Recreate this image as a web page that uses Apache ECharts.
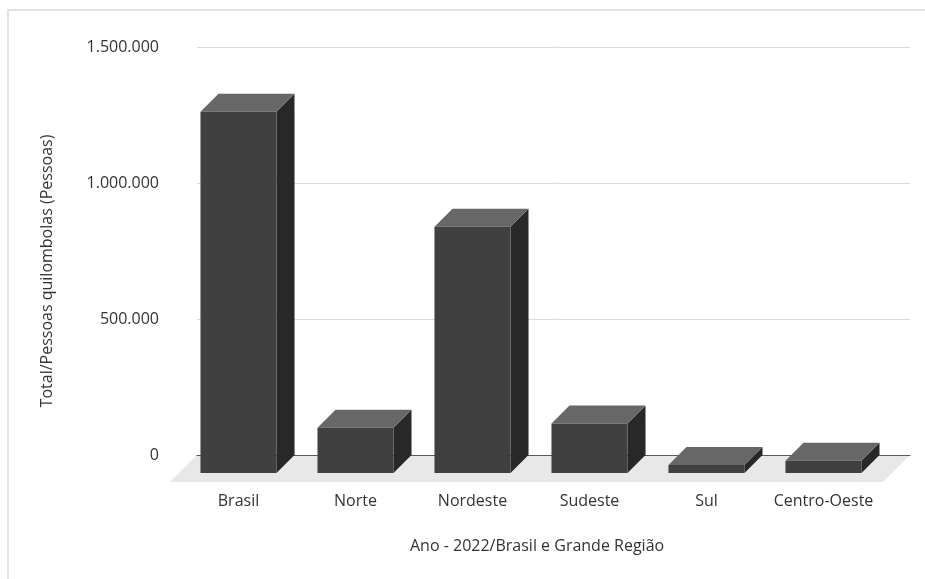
<!DOCTYPE html>
<html>
<head>
<meta charset="utf-8">
<script src="https://cdn.jsdelivr.net/npm/echarts@6/dist/echarts.min.js"></script>
<style>
html,body{margin:0;padding:0;background:#fff;}
#chart{width:925px;height:579px;}
</style>
</head>
<body>
<div id="chart"></div>
<script>
const categories = ['Brasil', 'Norte', 'Nordeste', 'Sudeste', 'Sul', 'Centro-Oeste'];
const values = [1327802, 166069, 905415, 182305, 29380, 44957];
const yMin = 0, yMax = 1500000, yStep = 500000;
const yAxisTitle = 'Total/Pessoas quilombolas (Pessoas)';
const xAxisTitle = 'Ano - 2022/Brasil e Grande Região';

const FONT = 'Open Sans';
const TXT = '#333333';
const DEPTH = 18;
const FLOOR = 27;

function fmt(v) {
  return String(v).replace(/\B(?=(\d{3})+(?!\d))/g, '.');
}

const chart = echarts.init(document.getElementById('chart'), null, {renderer: 'canvas'});

const option = {
  backgroundColor: '#fff',
  animation: false,
  grid: [
    {left: 198, right: 25, top: 47, bottom: 124},
    {left: 197, right: 15, top: 47, bottom: 124}
  ],
  xAxis: [
    {
      type: 'category', gridIndex: 0, data: categories,
      axisLine: {show: false}, axisTick: {show: false},
      axisLabel: {
        interval: 0, hideOverlap: false,
        color: TXT, fontFamily: FONT, fontSize: 16, margin: 38,
        padding: [0, DEPTH * 2, 0, 0]
      }
    },
    {
      type: 'value', gridIndex: 1, min: 0, max: 1, z: 2,
      axisLine: {show: true, lineStyle: {color: '#595959', width: 1}},
      axisTick: {show: false}, axisLabel: {show: false}, splitLine: {show: false}
    }
  ],
  yAxis: [
    {
      type: 'value', gridIndex: 0, min: yMin, max: yMax, interval: yStep, show: false
    },
    {
      type: 'value', gridIndex: 1, min: yMin, max: yMax, interval: yStep,
      axisLine: {show: false}, axisTick: {show: false},
      axisLabel: {color: TXT, fontFamily: FONT, fontSize: 16, margin: 38, formatter: fmt},
      splitLine: {show: true, lineStyle: {color: '#d9d9d9', width: 1}}
    }
  ],
  graphic: [
    {
      type: 'rect', silent: true, z: -10,
      shape: {x: 8, y: 10, width: 1000, height: 1000},
      style: {fill: 'none', stroke: '#d9d9d9', lineWidth: 1.5}
    },
    {
      type: 'text', x: 47, y: 271, rotation: Math.PI / 2, silent: true,
      style: {text: yAxisTitle, fill: TXT, font: '16px "Open Sans"', align: 'center', verticalAlign: 'middle'}
    },
    {
      type: 'text', left: 410, top: 538, silent: true,
      style: {text: xAxisTitle, fill: TXT, font: '16px "Open Sans"'}
    }
  ],
  series: [
    {
      type: 'custom', xAxisIndex: 1, yAxisIndex: 1, z: 1, silent: true,
      data: [[0.5, 0]],
      renderItem: function (params, api) {
        const cs = params.coordSys;
        const y0 = api.coord([0.5, 0])[1];
        return {
          type: 'polygon',
          shape: {points: [
            [cs.x, y0], [cs.x + cs.width, y0],
            [cs.x + cs.width - FLOOR, y0 + FLOOR], [cs.x - FLOOR, y0 + FLOOR]
          ]},
          style: {fill: '#e8e8e8'}
        };
      }
    },
    {
      type: 'custom', xAxisIndex: 0, yAxisIndex: 0, z: 3, silent: true,
      data: categories.map((c, i) => [i, values[i]]),
      renderItem: function (params, api) {
        const idx = api.value(0), v = api.value(1);
        const top = api.coord([idx, v]);
        const base = api.coord([idx, 0]);
        const w = api.size([1, 0])[0] * 0.65;
        const bl = top[0] - w / 2, br = top[0] + w / 2;
        const ty = top[1], by = base[1], d = DEPTH;
        return {
          type: 'group',
          children: [
            {type: 'polygon', shape: {points: [[br - d, ty + d], [br, ty], [br, by], [br - d, by + d]]},
              style: {fill: '#282828'}},
            {type: 'polygon', shape: {points: [[bl - d, ty + d], [bl, ty], [br, ty], [br - d, ty + d]]},
              style: {fill: '#676767'}},
            {type: 'rect', shape: {x: bl - d, y: ty + d, width: w, height: by - ty},
              style: {fill: '#404040'}}
          ]
        };
      }
    }
  ]
};

chart.setOption(option);
</script>
</body>
</html>
